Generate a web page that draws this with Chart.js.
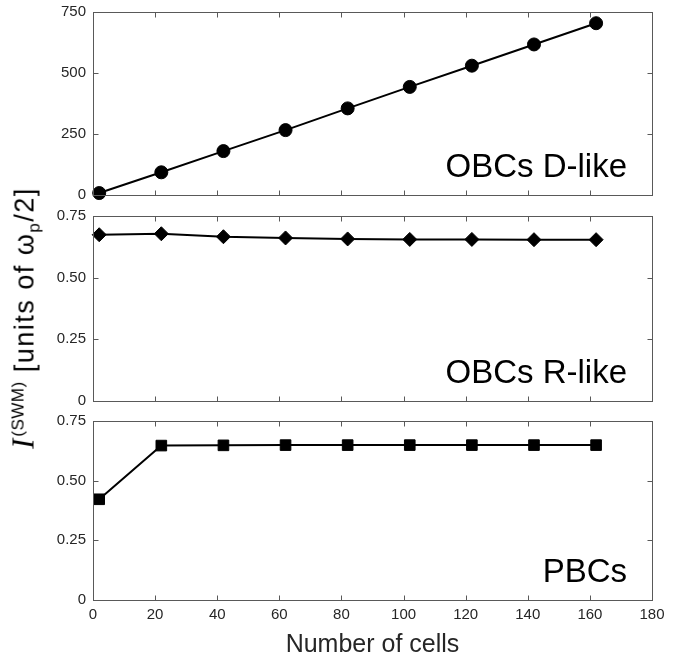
<!DOCTYPE html>
<html>
<head>
<meta charset="utf-8">
<script src="https://cdn.jsdelivr.net/npm/chart.js@4"></script>
<style>
  html, body { margin: 0; padding: 0; background: #fff; overflow: hidden; }
  #wrap { position: relative; width: 680px; height: 656px; overflow: hidden; }
  .panel { position: absolute; left: 0; width: 680px; }
  #ytitle {
    position: absolute; left: 25px; top: 318px;
    transform: translate(-50%, -50%) rotate(-90deg);
    white-space: nowrap; font: 27px "Liberation Sans", Arial, sans-serif;
    letter-spacing: 1.5px; line-height: 1; color: #000;
  }
  #ytitle .iv { font-family: "Liberation Serif", serif; font-style: italic; font-size: 31px; letter-spacing: 2px; }
  #ytitle sup { font-size: 17px; vertical-align: 10px; letter-spacing: 0.5px; }
  #ytitle sub { font-size: 17px; vertical-align: -6px; }
</style>
</head>
<body>
<div id="wrap">
  <div class="panel" style="top:-4px;height:215px"><canvas id="d-like"></canvas></div>
  <div class="panel" style="top:200px;height:217px"><canvas id="r-like"></canvas></div>
  <div class="panel" style="top:405px;height:251px"><canvas id="pbc"></canvas></div>
  <div id="ytitle"><span class="iv">I</span><sup>(SWM)</sup> [units of ω<sub>p</sub>/2]</div>
</div>
<script>
// number of cells (x), shared by all three panels
const cells = [2, 22, 42, 62, 82, 102, 122, 142, 162];
// OBCs D-like
const dLike = [8, 93, 180, 266, 355, 443, 530, 617, 704];
// OBCs R-like
const rLike = [0.674, 0.678, 0.666, 0.661, 0.657, 0.655, 0.655, 0.654, 0.654];
// PBCs
const pbc = [0.422, 0.647, 0.648, 0.649, 0.649, 0.649, 0.649, 0.649, 0.649];

const xTicks = [0, 20, 40, 60, 80, 100, 120, 140, 160, 180];
const yTicksTop = [0, 250, 500, 750];
const yTicksLow = [0, 0.25, 0.5, 0.75];

const AXIS_COLOR = "#595959";
const TEXT_COLOR = "#262626";
const FONT = "'Liberation Sans', Arial, sans-serif";

// box round the plot area with MATLAB-style inward ticks on all four sides
const framePlugin = {
  id: "frame",
  afterDatasetsDraw(chart) {
    const { ctx, chartArea: a, scales } = chart;
    const len = 5;
    ctx.save();
    ctx.strokeStyle = AXIS_COLOR;
    ctx.lineWidth = 1;
    const l = Math.round(a.left) + 0.5, r = Math.round(a.right) + 0.5;
    const t = Math.round(a.top) + 0.5, b = Math.round(a.bottom) + 0.5;
    ctx.strokeRect(l, t, r - l, b - t);
    ctx.beginPath();
    xTicks.forEach((v) => {
      const px = Math.round(scales.x.getPixelForValue(v)) + 0.5;
      ctx.moveTo(px, b); ctx.lineTo(px, b - len);
      ctx.moveTo(px, t); ctx.lineTo(px, t + len);
    });
    scales.y.ticks.forEach((tk) => {
      const py = Math.round(scales.y.getPixelForValue(tk.value)) + 0.5;
      ctx.moveTo(l, py); ctx.lineTo(l + len, py);
      ctx.moveTo(r, py); ctx.lineTo(r - len, py);
    });
    ctx.stroke();
    ctx.restore();
  }
};

// panel name written inside the lower right corner
const panelLabelPlugin = {
  id: "panelLabel",
  afterDraw(chart, args, opts) {
    const { ctx, chartArea: a } = chart;
    ctx.save();
    ctx.font = "33px " + FONT;
    ctx.fillStyle = "#000";
    ctx.textAlign = "right";
    ctx.textBaseline = "alphabetic";
    ctx.fillText(opts.text, a.right - 25, a.bottom - 18);
    ctx.restore();
  }
};

const makeConfig = (values, pointStyle, radius, yMax, yTicks, label, showX, padding) => ({
  type: "line",
  data: {
    datasets: [
      {
        data: cells.map((c, i) => ({ x: c, y: values[i] })),
        borderColor: "#000",
        backgroundColor: "#000",
        borderWidth: 2,
        pointStyle: pointStyle,
        pointRadius: radius,
        pointBorderWidth: 1,
        pointBackgroundColor: "#000",
        pointBorderColor: "#000",
        tension: 0,
        clip: false
      }
    ]
  },
  options: {
    responsive: true,
    maintainAspectRatio: false,
    animation: false,
    layout: { padding: padding },
    plugins: {
      legend: { display: false },
      tooltip: { enabled: false },
      panelLabel: { text: label }
    },
    scales: {
      x: {
        type: "linear",
        display: showX,
        min: 0,
        max: 180,
        grid: { display: false, drawTicks: false },
        border: { display: false },
        afterBuildTicks: (axis) => {
          axis.ticks = xTicks.map((v) => ({ value: v }));
        },
        ticks: {
          padding: 6,
          color: TEXT_COLOR,
          font: { family: FONT, size: 15 },
          maxRotation: 0,
          autoSkip: false
        },
        title: {
          display: showX,
          text: "Number of cells",
          color: TEXT_COLOR,
          font: { family: FONT, size: 25, lineHeight: 0.9 },
          padding: { top: 0, bottom: 0 }
        },
        afterFit: (axis) => {
          axis.height = showX ? 56 : 0;
        }
      },
      y: {
        min: 0,
        max: yMax,
        grid: { display: false, drawTicks: false },
        border: { display: false },
        afterBuildTicks: (axis) => {
          axis.ticks = yTicks.map((v) => ({ value: v }));
        },
        ticks: {
          padding: 7,
          color: TEXT_COLOR,
          font: { family: FONT, size: 15 },
          callback: (v) => (v === 0 || yMax > 1 ? String(v) : v.toFixed(2))
        },
        afterFit: (axis) => {
          axis.width = 93;
        }
      }
    }
  },
  plugins: [framePlugin, panelLabelPlugin]
});

const createChart = (elementId, chartConfig) => {
  const context = document.getElementById(elementId).getContext("2d");
  return new Chart(context, chartConfig);
};

createChart(
  "d-like",
  makeConfig(dLike, "circle", 6.5, 750, yTicksTop, "OBCs D-like", false,
    { top: 12, bottom: 10, left: 0, right: 28 })
);
createChart(
  "r-like",
  makeConfig(rLike, "rectRot", 7, 0.75, yTicksLow, "OBCs R-like", false,
    { top: 11, bottom: 5, left: 0, right: 28 })
);
createChart(
  "pbc",
  makeConfig(pbc, "rect", 7.5, 0.75, yTicksLow, "PBCs", true,
    { top: 11, bottom: 0, left: 0, right: 28 })
);
</script>
</body>
</html>
